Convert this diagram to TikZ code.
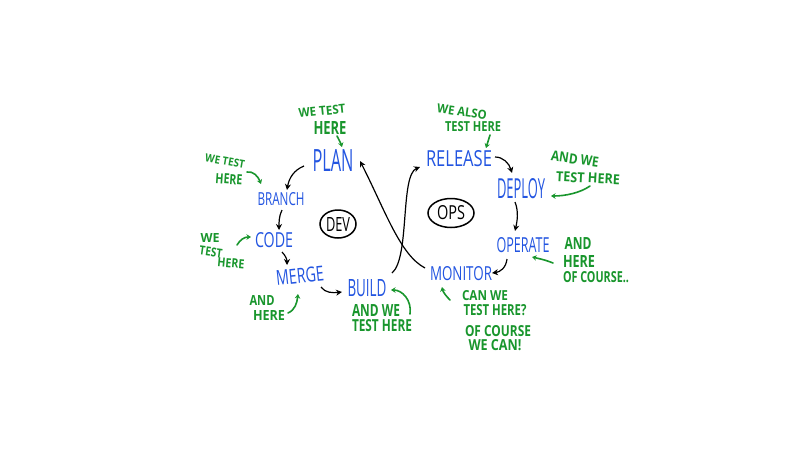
\documentclass[tikz,border=0pt]{standalone}
\usepackage{fontspec}
\setmainfont{Open Sans}
\usetikzlibrary{arrows.meta,shapes.geometric}
\definecolor{stageblue}{RGB}{35,85,225}
\definecolor{notegreen}{RGB}{25,150,45}
\newcommand\fitto[3]{\resizebox{#1pt}{#2pt}{#3}}
\tikzset{
  stage/.style={text=stageblue, inner sep=0pt, font=\normalsize},
  note/.style={text=notegreen, inner sep=0pt, font=\bfseries},
  flow/.style={draw=black, line width=1.2pt, -{Stealth[length=6pt,width=6pt]}},
  hint/.style={draw=notegreen, line width=1.6pt, line cap=round, -{Stealth[length=4.5pt,width=5.5pt]}},
  badge/.style={draw=black, line width=1.5pt, ellipse, inner sep=0pt},
}
\begin{document}
\begin{tikzpicture}[x=1pt,y=-1pt]
\useasboundingbox (0,0) rectangle (800,450);
\fill[white] (0,0) rectangle (800,450);

% stages
\node[stage] (plan)    at (333,160) {\fitto{41}{22}{PLAN}};
\node[stage] (branch)  at (281,199) {\fitto{47}{13}{BRANCH}};
\node[stage] (code)    at (274,240) {\fitto{38}{15}{CODE}};
\node[stage,rotate=6] (merge) at (300,276) {\fitto{48}{15}{MERGE}};
\node[stage] (build)   at (367,288) {\fitto{39}{17}{BUILD}};
\node[stage] (release) at (459,159) {\fitto{66}{16}{RELEASE}};
\node[stage] (deploy)  at (521,189) {\fitto{48}{20}{DEPLOY}};
\node[stage] (operate) at (523,245) {\fitto{53}{15}{OPERATE}};
\node[stage] (monitor) at (461,274) {\fitto{62}{14}{MONITOR}};

% badges
\node[badge, minimum width=36pt, minimum height=28pt] (dev) at (338,224) {\fitto{24}{14}{DEV}};
\node[badge, minimum width=46pt, minimum height=29pt] (ops) at (451,213) {\fitto{28}{14}{OPS}};

% notes
\node[note,rotate=6]  (n1a) at (322,111) {\fitto{47}{9}{WE TEST}};
\node[note]           (n1b) at (330,128) {\fitto{33}{13}{HERE}};
\node[note,rotate=-10] (n2a) at (225,161) {\fitto{40}{8}{WE TEST}};
\node[note,rotate=-4] (n2b) at (229,179) {\fitto{27}{10}{HERE}};
\node[note]           (n3a) at (210,238) {\fitto{19}{9}{WE}};
\node[note,rotate=-8] (n3b) at (211,252) {\fitto{23}{9}{TEST}};
\node[note,rotate=-5] (n3c) at (231,263) {\fitto{27}{9}{HERE}};
\node[note]           (n4a) at (262,300) {\fitto{25}{10}{AND}};
\node[note]           (n4b) at (269,315) {\fitto{32}{10}{HERE}};
\node[note]           (n5a) at (376,310) {\fitto{48}{12}{AND WE}};
\node[note]           (n5b) at (382,326) {\fitto{60}{12}{TEST HERE}};
\node[note,rotate=-8] (n6a) at (462,112) {\fitto{50}{9}{WE ALSO}};
\node[note]           (n6b) at (473,127) {\fitto{56}{10}{TEST HERE}};
\node[note,rotate=-8] (n7a) at (575,159) {\fitto{48}{10}{AND WE}};
\node[note,rotate=-3] (n7b) at (588,178) {\fitto{64}{10}{TEST HERE}};
\node[note]           (n8a) at (578,243) {\fitto{27}{12}{AND}};
\node[note]           (n8b) at (579,261) {\fitto{32}{12}{HERE}};
\node[note]           (n8c) at (596,277) {\fitto{66}{11}{OF COURSE..}};
\node[note]           (n9a) at (485,296) {\fitto{46}{10}{CAN WE}};
\node[note]           (n9b) at (495,310) {\fitto{63}{11}{TEST HERE?}};
\node[note]           (n9c) at (498,331) {\fitto{66}{11}{OF COURSE}};
\node[note]           (n9d) at (495,345) {\fitto{53}{11}{WE CAN!}};

% connector endpoints
\coordinate (p1s) at (304,166); \coordinate (p1e) at (287,190);
\coordinate (p2s) at (282,210); \coordinate (p2e) at (279,230);
\coordinate (p3s) at (282,252); \coordinate (p3e) at (287,265);
\coordinate (p4s) at (321,287); \coordinate (p4e) at (342,292);
\coordinate (p5s) at (392,273); \coordinate (p5e) at (420,167);
\coordinate (p6s) at (425,268); \coordinate (p6e) at (360,161);
\coordinate (p7s) at (495,157); \coordinate (p7e) at (512,173);
\coordinate (p8s) at (515,202); \coordinate (p8e) at (515,231);
\coordinate (p9s) at (507,259); \coordinate (p9e) at (492,273);

\draw[flow] (p1s) .. controls (294,170) and (289,178) .. (p1e);
\draw[flow] (p2s) .. controls (279,216) and (279,222) .. (p2e);
\draw[flow] (p3s) .. controls (286,256) and (287,260) .. (p3e);
\draw[flow] (p4s) .. controls (325,293) and (333,293) .. (p4e);
\draw[flow] (p5s) .. controls (410,258) and (400,175) .. (p5e);
\draw[flow] (p6s) .. controls (400,255) and (385,210) .. (p6e);
\draw[flow] (p7s) .. controls (503,157) and (509,163) .. (p7e);
\draw[flow] (p8s) .. controls (519,212) and (517,222) .. (p8e);
\draw[flow] (p9s) .. controls (506,268) and (500,272) .. (p9e);

% note arrows
\coordinate (h1s) at (337,136); \coordinate (h1e) at (342,147);
\coordinate (h2s) at (247,172); \coordinate (h2e) at (261,184);
\coordinate (h3s) at (237,245); \coordinate (h3e) at (251,237);
\coordinate (h4s) at (288,313); \coordinate (h4e) at (298,294);
\coordinate (h5s) at (410,314); \coordinate (h5e) at (391,290);
\coordinate (h6s) at (490,135); \coordinate (h6e) at (486,148);
\coordinate (h7s) at (590,186); \coordinate (h7e) at (551,196);
\coordinate (h8s) at (553,263); \coordinate (h8e) at (532,257);
\coordinate (h9s) at (450,300); \coordinate (h9e) at (442,287);

\draw[hint] (h1s) .. controls (340,140) .. (h1e);
\draw[hint] (h2s) .. controls (253,171) and (258,176) .. (h2e);
\draw[hint] (h3s) .. controls (240,240) and (244,237) .. (h3e);
\draw[hint] (h4s) .. controls (295,310) and (297,303) .. (h4e);
\draw[hint] (h5s) .. controls (412,300) and (402,290) .. (h5e);
\draw[hint] (h6s) -- (h6e);
\draw[hint] (h7s) .. controls (580,193) and (565,196) .. (h7e);
\draw[hint] (h8s) .. controls (545,260) .. (h8e);
\draw[hint] (h9s) .. controls (446,296) and (443,292) .. (h9e);
\end{tikzpicture}
\end{document}
